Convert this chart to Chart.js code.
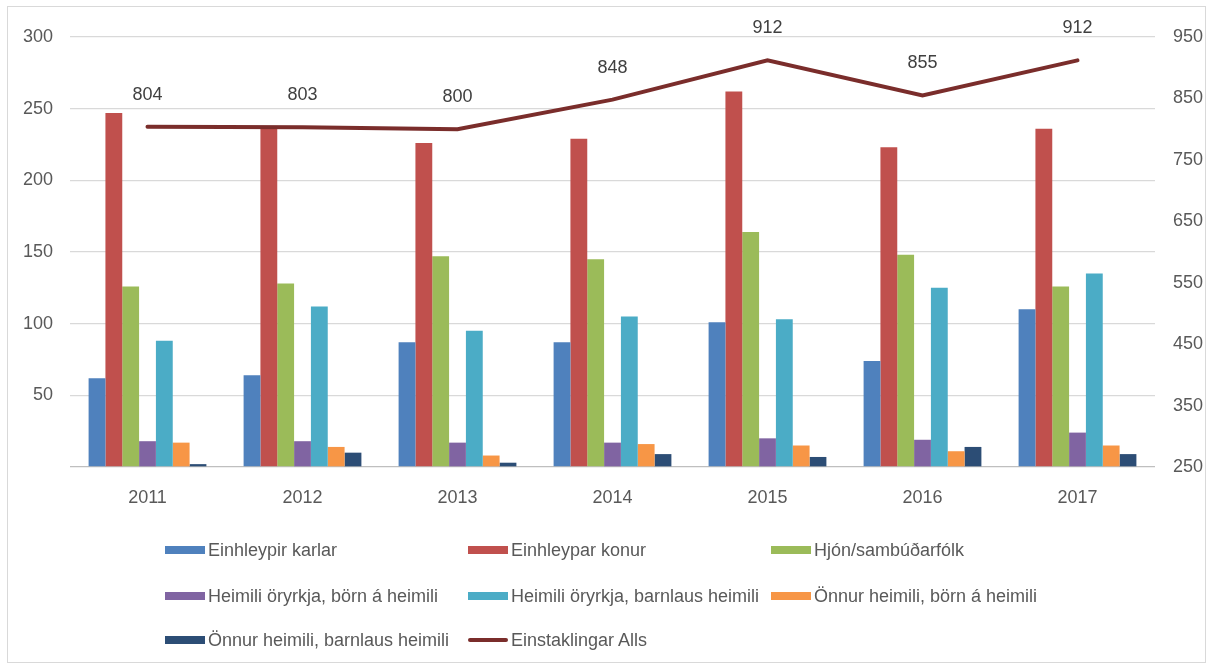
<!DOCTYPE html>
<html>
<head>
<meta charset="utf-8">
<script src="https://cdn.jsdelivr.net/npm/chart.js@4/dist/chart.umd.min.js"></script>
<style>
  html, body { margin: 0; padding: 0; background: #fff; }
  #wrap { position: relative; width: 1213px; height: 670px; overflow: hidden; }
  #frame { position: absolute; left: 7px; top: 6px; width: 1199px; height: 657px; border: 1px solid #d9d9d9; box-sizing: border-box; pointer-events: none; }
  canvas { position: absolute; left: 0; top: 0; }
  .lg-item { position: absolute; height: 24px; display: flex; align-items: center; white-space: nowrap;
    font-family: 'Liberation Sans', Arial, sans-serif; font-size: 18px; color: #595959; }
  .lg-sw { width: 40px; margin-right: 3px; }
</style>
</head>
<body>
<div id="wrap">
  <canvas id="chart" width="1213" height="670"></canvas>
  <div id="legend"></div>
  <div id="frame"></div>
</div>
<script>
// Gögn (lesin af myndinni)
const years = ['2011', '2012', '2013', '2014', '2015', '2016', '2017'];
const einhleypirKarlar = [62, 64, 87, 87, 101, 74, 110];
const einhleyparKonur = [247, 237, 226, 229, 262, 223, 236];
const hjonSambud = [126, 128, 147, 145, 164, 148, 126];
const oryrkjaBorn = [18, 18, 17, 17, 20, 19, 24];
const oryrkjaBarnlaus = [88, 112, 95, 105, 103, 125, 135];
const onnurBorn = [17, 14, 8, 16, 15, 11, 15];
const onnurBarnlaus = [2, 10, 3, 9, 7, 14, 9];
const einstaklingarAlls = [804, 803, 800, 848, 912, 855, 912];

const FONT = "'Liberation Sans', Arial, sans-serif";

function bar(label, data, color) {
  return {
    type: 'bar',
    label: label,
    data: data,
    backgroundColor: color,
    borderWidth: 0,
    yAxisID: 'y',
    order: 1,
    barPercentage: 1,
    categoryPercentage: 0.76
  };
}

// merkingar fyrir ofan línuna
const lineLabels = {
  id: 'lineLabels',
  afterDatasetsDraw(chart) {
    const ctx = chart.ctx;
    chart.data.datasets.forEach((ds, i) => {
      if (ds.type !== 'line') return;
      const meta = chart.getDatasetMeta(i);
      ctx.save();
      ctx.font = '18px ' + FONT;
      ctx.fillStyle = '#404040';
      ctx.textAlign = 'center';
      ctx.textBaseline = 'middle';
      meta.data.forEach((pt, j) => {
        ctx.fillText(String(ds.data[j]), pt.x, pt.y - 32);
      });
      ctx.restore();
    });
  }
};

const chart = new Chart(document.getElementById('chart'), {
  data: {
    labels: years,
    datasets: [
      bar('Einhleypir karlar', einhleypirKarlar, '#4F81BD'),
      bar('Einhleypar konur', einhleyparKonur, '#C0504D'),
      bar('Hjón/sambúðarfólk', hjonSambud, '#9BBB59'),
      bar('Heimili öryrkja, börn á heimili', oryrkjaBorn, '#8064A2'),
      bar('Heimili öryrkja, barnlaus heimili', oryrkjaBarnlaus, '#4BACC6'),
      bar('Önnur heimili, börn á heimili', onnurBorn, '#F79646'),
      bar('Önnur heimili, barnlaus heimili', onnurBarnlaus, '#2C4D75'),
      {
        type: 'line',
        label: 'Einstaklingar Alls',
        data: einstaklingarAlls,
        borderColor: '#7A2D2B',
        backgroundColor: '#7A2D2B',
        borderWidth: 4,
        pointRadius: 0,
        tension: 0,
        fill: false,
        borderCapStyle: 'round',
        yAxisID: 'y1',
        order: 0
      }
    ]
  },
  options: {
    responsive: false,
    animation: false,
    layout: { padding: { top: 37, bottom: 158, left: 0, right: 0 } },
    plugins: {
      legend: { display: false },
      tooltip: { enabled: false }
    },
    scales: {
      x: {
        grid: { display: false },
        border: { display: false },
        ticks: { color: '#595959', font: { family: FONT, size: 18 }, padding: 12 },
        afterFit: s => { s.height = 45; }
      },
      y: {
        position: 'left',
        min: 0,
        max: 300,
        ticks: {
          stepSize: 50,
          color: '#595959',
          font: { family: FONT, size: 18 },
          padding: 17,
          callback: v => (v === 0 ? '' : v)
        },
        grid: {
          drawTicks: false,
          color: c => (c.tick && c.tick.value === 0 ? '#bfbfbf' : '#d9d9d9'),
          lineWidth: 1.3
        },
        border: { display: false },
        afterFit: s => { s.width = 70; }
      },
      y1: {
        position: 'right',
        min: 250,
        max: 950,
        ticks: { stepSize: 100, color: '#595959', font: { family: FONT, size: 18 }, padding: 18 },
        grid: { drawOnChartArea: false, drawTicks: false },
        border: { display: false },
        afterFit: s => { s.width = 58; }
      }
    }
  },
  plugins: [lineLabels]
});

// Skýringar (legend) í þremur dálkum
const legendCols = [165, 468, 771];
const legendRows = [550, 596, 640];
const legendEl = document.getElementById('legend');
chart.data.datasets.forEach((ds, i) => {
  const item = document.createElement('div');
  item.className = 'lg-item';
  item.style.left = legendCols[i % 3] + 'px';
  item.style.top = (legendRows[Math.floor(i / 3)] - 12) + 'px';
  const sw = document.createElement('span');
  sw.className = 'lg-sw';
  sw.style.background = ds.type === 'line' ? ds.borderColor : ds.backgroundColor;
  sw.style.height = ds.type === 'line' ? '4px' : '8px';
  if (ds.type === 'line') sw.style.borderRadius = '2px';
  const txt = document.createElement('span');
  txt.textContent = ds.label;
  item.appendChild(sw);
  item.appendChild(txt);
  legendEl.appendChild(item);
});
</script>
</body>
</html>
